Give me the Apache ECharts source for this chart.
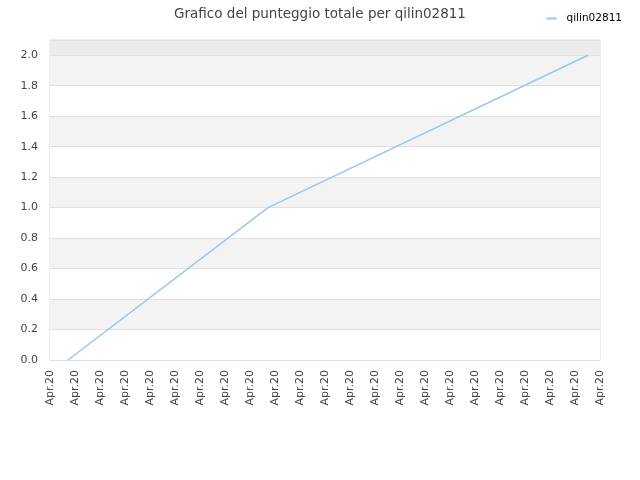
<!DOCTYPE html>
<html><head><meta charset="utf-8">
<script src="https://cdn.jsdelivr.net/npm/echarts@6/dist/echarts.min.js"></script>
<style>html,body{margin:0;padding:0;background:#fff}#c{width:640px;height:480px}</style>
</head><body><div id="c"></div>
<script>
const titleText = 'Grafico del punteggio totale per qilin02811';
const seriesName = 'qilin02811';
const tickLabels = ['Apr.20','Apr.20','Apr.20','Apr.20','Apr.20','Apr.20','Apr.20','Apr.20','Apr.20','Apr.20','Apr.20','Apr.20','Apr.20','Apr.20','Apr.20','Apr.20','Apr.20','Apr.20','Apr.20','Apr.20','Apr.20','Apr.20','Apr.20'];
const xPositions = [0.72, 8.72, 21.52];
const scores = [0, 1, 2];

const chart = echarts.init(document.getElementById('c'));
chart.setOption({
  animation: false,
  title: { text: titleText, left: 'center', top: 2, textStyle: { fontSize: 13.5, fontWeight: 'normal', color: '#444', fontFamily: 'DejaVu Sans' } },
  legend: { data: [{ name: seriesName, icon: 'rect' }], right: 13, top: 8, itemWidth: 10, itemHeight: 2,
    textStyle: { fontSize: 10.5, color: '#000', fontFamily: 'DejaVu Sans', padding: [0, 0, 0, 5] } },
  grid: { left: 50, right: 40, top: 40, bottom: 120, show: true, borderColor: '#dddddd', borderWidth: 1 },
  xAxis: {
    type: 'value', min: 0, max: tickLabels.length - 1, interval: 1,
    axisLine: { show: false }, axisTick: { show: false }, splitLine: { show: false },
    axisLabel: { rotate: 90, fontSize: 11, color: '#444', fontFamily: 'DejaVu Sans', margin: 10,
      formatter: (v) => tickLabels[Math.round(v)] || '' }
  },
  yAxis: {
    type: 'value', min: 0, max: 2.1, interval: 0.2,
    axisLine: { show: false }, axisTick: { show: false },
    axisLabel: { fontSize: 11, color: '#444', fontFamily: 'DejaVu Sans', margin: 12, showMaxLabel: false,
      formatter: (v) => v.toFixed(1) },
    splitLine: { show: true, lineStyle: { color: '#e0e0e0', width: 1 } },
    splitArea: { show: true, areaStyle: { color: ['#ffffff','#f3f3f3','#ffffff','#f3f3f3','#ffffff','#f3f3f3','#ffffff','#f3f3f3','#ffffff','#f3f3f3','#ececec'] } }
  },
  series: [{
    name: seriesName, type: 'line', symbol: 'none',
    data: xPositions.map((x, i) => [x, scores[i]]),
    lineStyle: { color: '#99c5f3', width: 1.5 }, itemStyle: { color: '#99c5f3' }
  }]
});
</script></body></html>
